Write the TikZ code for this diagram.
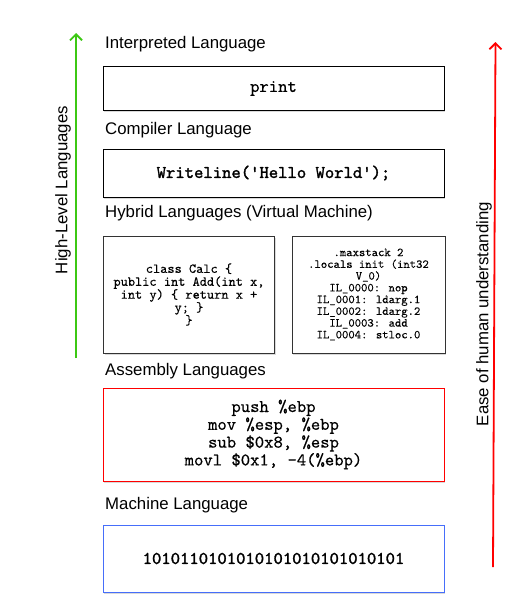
\documentclass[tikz,border=0pt]{standalone}
\usepackage{fontspec}
\setmainfont{Liberation Sans}
\newfontfamily\cmono{lmmono10-regular.otf}[FakeBold=0.5]
\newfontfamily\cmonol{lmmono10-regular.otf}[FakeBold=0.2]
\newfontfamily\cmonob{lmmono10-regular.otf}[FakeBold=1.6]
\usetikzlibrary{arrows.meta,shadows}
\definecolor{arrgreen}{RGB}{60,200,20}
\definecolor{arrred}{RGB}{255,0,0}
\definecolor{boxblue}{RGB}{70,110,250}
\begin{document}
\begin{tikzpicture}[x=1pt,y=-1pt,
  lbl/.style={anchor=base west,inner sep=0pt,font=\fontsize{16.8}{20}\selectfont},
  sidelbl/.style={rotate=90,inner sep=0pt,font=\fontsize{16.8}{20}\selectfont},
  box/.style={draw,line width=0.9pt,fill=white,inner sep=0pt,align=center,
    drop shadow={shadow xshift=1pt,shadow yshift=-1.6pt,opacity=0.3}},
  code/.style={font=\cmono\fontsize{17.8}{17.8}\selectfont},
  codeb/.style={font=\cmonob\fontsize{17.8}{17.8}\selectfont},
  arr/.style={line width=1.8pt,-{Straight Barb[length=6pt,width=12pt]}}
]
\useasboundingbox (0,0) rectangle (525,605);

% section labels
\node[lbl] (l1) at (105,48) {Interpreted Language};
\node[lbl] (l2) at (105,134) {Compiler Language};
\node[lbl] (l3) at (105,217) {Hybrid Languages (Virtual Machine)};
\node[lbl] (l4) at (105,375) {Assembly Languages};
\node[lbl] (l5) at (105,509) {Machine Language};

% boxes
\node[box,code,minimum width=341,minimum height=44] (print) at (273.5,88.5) {print};
\node[box,codeb,minimum width=341,minimum height=48] (write) at (273.5,173) {Writeline('Hello World');};
\node[box,draw=black!80,minimum width=171,minimum height=117,
  font=\cmonol\fontsize{13.7}{12.9}\selectfont] (calc) at (189,294.5)
  {class Calc \{\\public int Add(int x,\\int y) \{ return x +\\y; \}\\\}};
\node[box,draw=black!80,minimum width=153,minimum height=117,
  font=\cmonol\fontsize{12.1}{11.75}\selectfont] (il) at (368.5,294.5)
  {.maxstack 2\\.locals init (int32\\V\_0)\\IL\_0000: nop\\IL\_0001: ldarg.1\\IL\_0002: ldarg.2\\IL\_0003: add\\IL\_0004: stloc.0};
\node[box,code,draw=arrred,minimum width=341,minimum height=93] (asm) at (273.5,434.5)
  {push \%ebp\\mov \%esp, \%ebp\\sub \$0x8, \%esp\\movl \$0x1, -4(\%ebp)};
\node[box,codeb,draw=boxblue,minimum width=341,minimum height=67] (mach) at (273.5,558.5)
  {1010110101010101010101010101};

% side arrows
\coordinate (g0) at (76,358);
\coordinate (g1) at (76,33);
\draw[arr,arrgreen] (g0) -- (g1);
\node[sidelbl] (hl) at (63,190) {High-Level Languages};

\coordinate (r0) at (493,567);
\coordinate (r1) at (495.5,42);
\draw[arr,arrred] (r0) -- (r1);
\node[sidelbl] (ease) at (484,314) {Ease of human understanding};
\end{tikzpicture}
\end{document}
